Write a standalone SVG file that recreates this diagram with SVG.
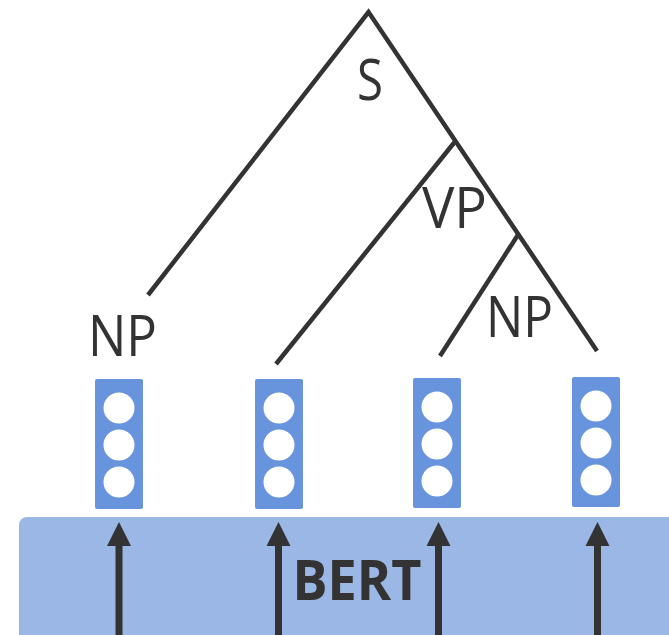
<svg xmlns="http://www.w3.org/2000/svg" width="669" height="635" viewBox="0 0 669 635">
  <style>
    .branch { fill: none; stroke: #333333; stroke-width: 4.5; stroke-linejoin: miter; stroke-linecap: butt; }
    .label { font-family: "Open Sans", "Noto Sans", sans-serif; font-size: 57px; fill: #333333; text-anchor: middle; }
    .vec { fill: #6794DC; }
    .unit { fill: #ffffff; }
    .arrow-shaft { stroke: #333333; stroke-width: 7; }
    .arrow-head { fill: #333333; }
  </style>
  <defs>
    <g id="vector">
      <rect class="vec" x="-24" y="0" width="48" height="130" rx="2"/>
      <circle class="unit" cx="0" cy="29" r="15.5"/>
      <circle class="unit" cx="0" cy="66" r="15.5"/>
      <circle class="unit" cx="0" cy="103" r="15.5"/>
    </g>
    <g id="up-arrow">
      <line class="arrow-shaft" x1="0" y1="635" x2="0" y2="544"/>
      <polygon class="arrow-head" points="0,522 -12,546 12,546"/>
    </g>
  </defs>

  <!-- BERT encoder block -->
  <g id="bert">
    <rect x="19" y="517" width="670" height="140" rx="8" fill="#9AB7E6"/>
    <text x="357" y="600" font-family="Open Sans, Noto Sans, sans-serif" font-size="55" font-weight="bold" fill="#333333" text-anchor="middle" textLength="129" lengthAdjust="spacingAndGlyphs">BERT</text>
  </g>

  <!-- token vectors -->
  <g id="vec1"><use href="#vector" x="119" y="379"/></g>
  <g id="vec2"><use href="#vector" x="279" y="379"/></g>
  <g id="vec3"><use href="#vector" x="437" y="378"/></g>
  <g id="vec4"><use href="#vector" x="596" y="377"/></g>

  <!-- parse tree edges and encoder arrows -->
  <g id="connectors">
    <polyline class="branch" points="148,295 368.5,12 597,351"/>
    <polyline class="branch" points="276,364 455.5,141"/>
    <polyline class="branch" points="440,356 518.5,234"/>
    <use href="#up-arrow" x="119" y="0"/>
    <use href="#up-arrow" x="278.5" y="0"/>
    <use href="#up-arrow" x="438.5" y="0"/>
    <use href="#up-arrow" x="597.5" y="0"/>
  </g>

  <!-- constituent labels -->
  <g id="node-s"><text class="label" x="370" y="100" textLength="26" lengthAdjust="spacingAndGlyphs">S</text></g>
  <g id="node-vp"><text class="label" x="454.5" y="228" textLength="65" lengthAdjust="spacingAndGlyphs">VP</text></g>
  <g id="node-np-obj"><text class="label" x="519.5" y="337" textLength="67" lengthAdjust="spacingAndGlyphs">NP</text></g>
  <g id="node-np-subj"><text class="label" x="122.5" y="356" textLength="69" lengthAdjust="spacingAndGlyphs">NP</text></g>
</svg>
